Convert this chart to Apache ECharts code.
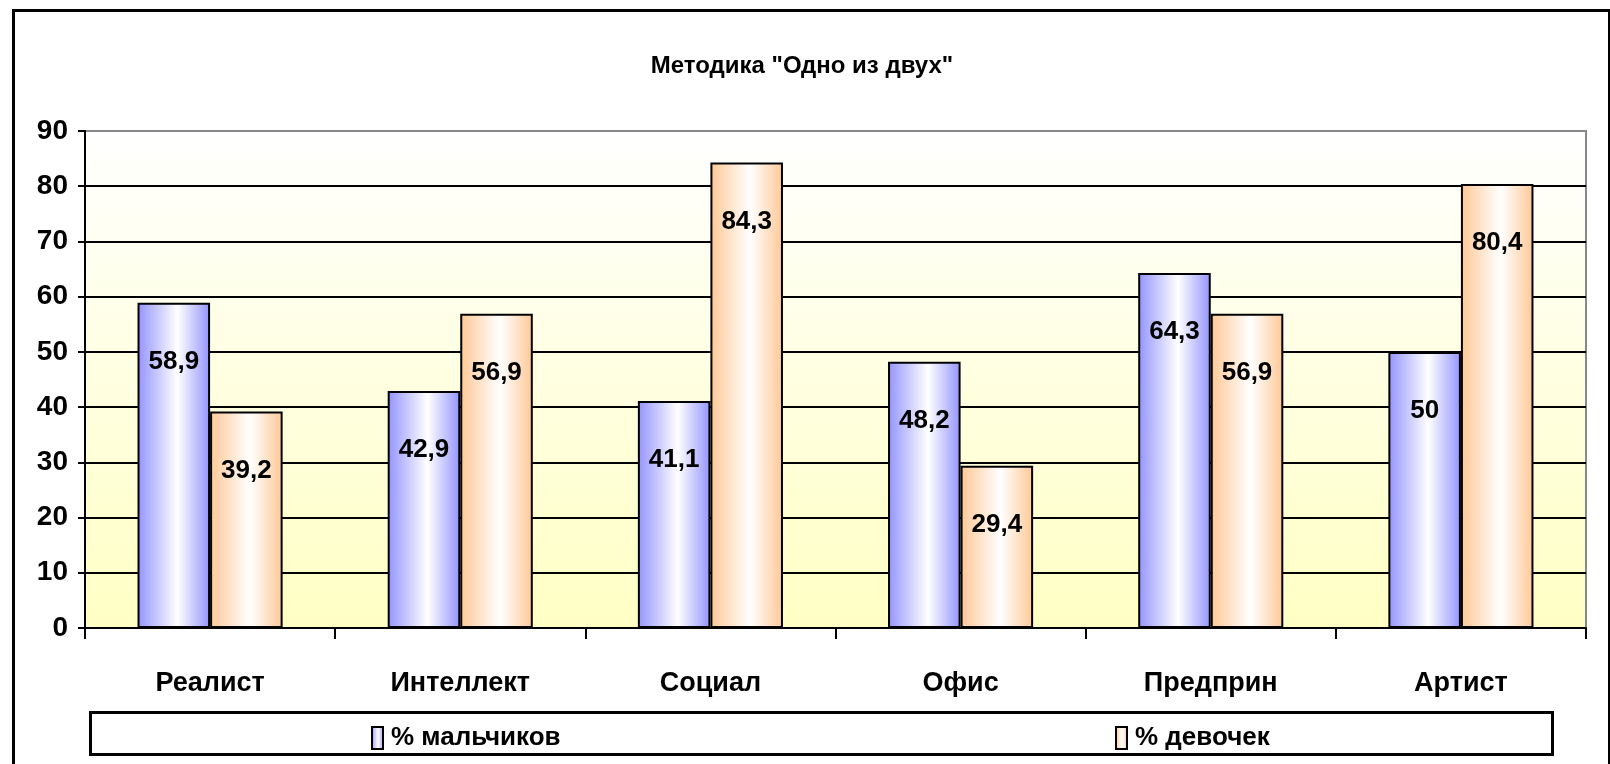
<!DOCTYPE html>
<html>
<head>
<meta charset="utf-8">
<script src="https://cdn.jsdelivr.net/npm/echarts@6/dist/echarts.min.js"></script>
<style>
html,body{margin:0;padding:0;background:#fff;}
#chart{width:1610px;height:764px;}
</style>
</head>
<body>
<div id="chart"></div>
<script>
const titleText = 'Методика "Одно из двух"';
const categories = ['Реалист', 'Интеллект', 'Социал', 'Офис', 'Предприн', 'Артист'];
const seriesNames = ['% мальчиков', '% девочек'];
const boys = [58.9, 42.9, 41.1, 48.2, 64.3, 50];
const girls = [39.2, 56.9, 84.3, 29.4, 56.9, 80.4];
const yTicks = [0, 10, 20, 30, 40, 50, 60, 70, 80, 90];

const FONT = "'Liberation Sans Narrow', 'Liberation Sans', Arial, sans-serif";
const WEIGHT = 'bold';

function grad(edge) {
  return new echarts.graphic.LinearGradient(0, 0, 1, 0, [
    {offset: 0, color: edge},
    {offset: 0.55, color: '#FFFFFF'},
    {offset: 1, color: edge}
  ]);
}

const chart = echarts.init(document.getElementById('chart'), null, {renderer: 'canvas'});

const labelCfg = {
  show: true,
  position: 'insideTop',
  distance: 46,
  color: '#000',
  fontFamily: FONT,
  fontWeight: WEIGHT,
  fontSize: 26,
  formatter: p => String(p.value).replace('.', ',')
};

chart.setOption({
  animation: false,
  backgroundColor: '#ffffff',
  title: {
    text: titleText,
    left: 797,
    top: 49,
    textAlign: 'center',
    textStyle: {fontFamily: FONT, fontWeight: WEIGHT, fontSize: 24, color: '#000'}
  },
  graphic: [
    {type: 'rect', left: 11, top: 8, shape: {x: 0, y: 0, width: 1596, height: 800},
     style: {fill: 'none', stroke: '#000', lineWidth: 3}, silent: true, z: 100},
    {type: 'rect', left: 89, top: 711, shape: {x: 0, y: 0, width: 1462, height: 42},
     style: {fill: '#fff', stroke: '#000', lineWidth: 3}, silent: true, z: 1}
  ],
  legend: [
    {data: [seriesNames[0]], left: 366, top: 720, itemWidth: 11, itemHeight: 22, itemGap: 10, icon: 'rect', z: 10,
     itemStyle: {borderColor: '#000', borderWidth: 2},
     textStyle: {fontFamily: FONT, fontWeight: WEIGHT, fontSize: 26, color: '#000', padding: [8, 0, 0, 3]}},
    {data: [seriesNames[1]], left: 1110, top: 720, itemWidth: 11, itemHeight: 22, itemGap: 10, icon: 'rect', z: 10,
     itemStyle: {borderColor: '#000', borderWidth: 2},
     textStyle: {fontFamily: FONT, fontWeight: WEIGHT, fontSize: 26, color: '#000', padding: [8, 0, 0, 3]}}
  ],
  grid: {
    left: 85, right: 24, top: 131, bottom: 136,
    show: true,
    borderColor: '#888888',
    borderWidth: 2,
    backgroundColor: new echarts.graphic.LinearGradient(0, 0, 0, 1, [
      {offset: 0, color: '#FFFFFF'},
      {offset: 1, color: '#FFFFC4'}
    ])
  },
  xAxis: {
    type: 'category',
    data: categories,
    axisLine: {show: true, lineStyle: {color: '#000', width: 2}},
    axisTick: {show: true, length: 11, lineStyle: {color: '#000', width: 2}},
    axisLabel: {margin: 42, color: '#000', fontFamily: FONT, fontWeight: WEIGHT, fontSize: 27}
  },
  yAxis: {
    type: 'value',
    min: 0, max: 90, interval: 10,
    axisLine: {show: true, lineStyle: {color: '#000', width: 2}},
    axisTick: {show: true, length: 7, lineStyle: {color: '#000', width: 2}},
    splitLine: {show: true, showMaxLine: false, lineStyle: {color: '#000', width: 2}},
    axisLabel: {
      margin: 17, color: '#000', fontFamily: FONT, fontWeight: WEIGHT, fontSize: 28,
      formatter: v => yTicks.includes(v) ? String(v) : ''
    }
  },
  series: [
    {
      name: seriesNames[0], type: 'bar', data: boys,
      barGap: '0%', barCategoryGap: '42%',
      itemStyle: {color: grad('#9393FF'), borderColor: '#000', borderWidth: 2},
      label: labelCfg
    },
    {
      name: seriesNames[1], type: 'bar', data: girls,
      itemStyle: {color: grad('#FFC896'), borderColor: '#000', borderWidth: 2},
      label: labelCfg
    }
  ]
});
</script>
</body>
</html>
